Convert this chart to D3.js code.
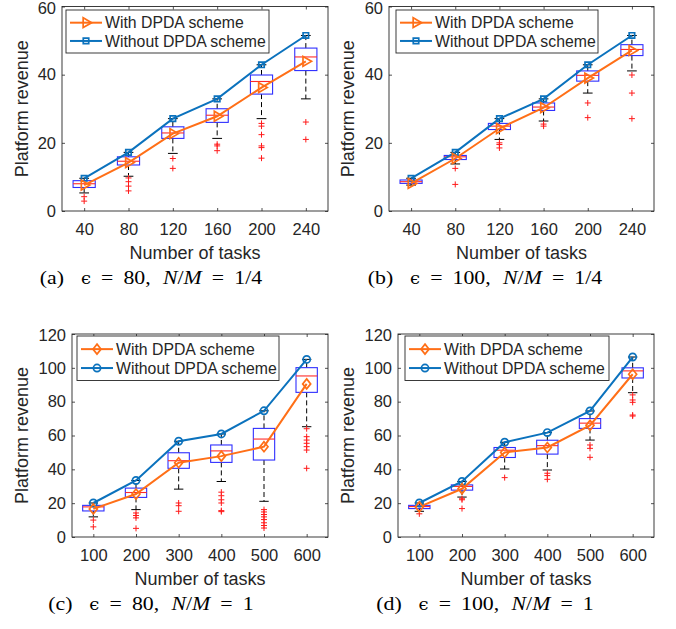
<!DOCTYPE html>
<html><head><meta charset="utf-8">
<script src="https://cdn.jsdelivr.net/npm/d3@7"></script>
<style>
body{margin:0;background:#fff;}
svg{display:block;}
text{font-family:"Liberation Sans",Arial,Helvetica,sans-serif;fill:#262626;}
.cap{font-family:"Liberation Serif","Times New Roman",serif;fill:#000;}
</style></head>
<body><svg id="chart" width="676" height="629"></svg>
<script>
// ---------------- data ----------------
const tasksAB = ["40","80","120","160","200","240"];
const tasksCD = ["100","200","300","400","500","600"];
const ticksAB = [0,20,40,60];
const ticksCD = [0,20,40,60,80,100,120];
const seriesNames = ["With DPDA scheme","Without DPDA scheme"];

// (a) eps=80, N/M=1/4
const withA    = [7.6,14.2,22.7,27.8,36.2,43.9];
const withoutA = [9.6,17.2,27.1,32.9,42.9,51.5];
const q1A  = [6.9,13.5,21.3,26.0,34.3,41.2];
const medA = [8.0,14.6,22.9,28.1,38.0,45.2];
const q3A  = [8.9,15.9,24.7,30.0,39.9,47.8];
const loA  = [5.3,10.2,16.9,21.3,27.1,32.9];
const hiA  = [9.6,17.2,27.1,32.9,42.9,51.5];
const outA = [[4.2,2.9],[9.7,8.6,7.3,5.9],[15.4,12.5],[19.6,19.1,17.7],[25.7,24.9,22.4,19.1,18.6,15.5],[26.1,21.0]];

// (b) eps=100, N/M=1/4
const withB    = [8.1,15.4,24.2,30.3,39.0,47.1];
const withoutB = [9.6,17.2,27.1,32.9,42.9,51.5];
const q1B  = [8.1,15.1,23.9,29.5,38.1,45.6];
const medB = [8.6,15.9,24.9,30.5,39.8,47.4];
const q3B  = [9.1,16.3,25.7,31.7,41.1,48.8];
const loB  = [7.6,13.8,21.0,26.4,34.6,41.1];
const hiB  = [9.6,17.2,27.1,32.9,42.9,51.5];
const outB = [[],[12.5,7.8],[20.0,19.5,18.5],[25.5,24.9],[31.7,27.4],[39.9,34.6,27.1]];

// (c) eps=80, N/M=1
const withC    = [16.6,25.4,43.9,47.8,53.4,90.5];
const withoutC = [20.1,33.4,56.6,60.9,74.6,105.0];
const q1C  = [15.4,23.4,40.6,44.1,45.5,85.5];
const medC = [17.8,26.3,45.1,50.9,57.9,95.2];
const q3C  = [18.7,28.9,49.8,54.4,64.2,100.1];
const loC  = [11.9,16.2,28.3,32.8,21.1,65.2];
const hiC  = [20.1,33.4,56.6,60.9,74.6,105.0];
const outC = [[10.0,6.0],[14.2,12.7,11.3,5.1],[20.1,18.5,15.2],[26.5,24.4,22.0,20.1,15.6,15.0],[16.2,14.8,13.3,11.9,10.3,8.4,6.8,5.3],[64.0,59.3,57.3,55.4,53.4,51.4,40.6]];

// (d) eps=100, N/M=1
const withD    = [17.8,28.5,50.0,52.9,66.0,96.2];
const withoutD = [20.1,32.8,56.0,61.7,74.5,106.4];
const q1D  = [16.8,27.7,47.0,49.0,64.2,94.0];
const medD = [18.0,29.9,51.3,54.0,67.3,98.2];
const q3D  = [18.7,30.8,52.9,57.2,70.0,100.0];
const loD  = [15.2,23.6,40.2,39.6,57.3,85.3];
const hiD  = [20.1,32.8,56.0,61.7,74.5,106.4];
const outD = [[13.7],[22.6,22.0,16.8],[35.1],[37.7,36.3,34.1],[54.4,52.4,47.1],[84.0,81.0,79.6,72.1,71.5]];

const captions = [
  ["(a)","80","1/4"],["(b)","100","1/4"],["(c)","80","1"],["(d)","100","1"]
];

// ---------------- layout ----------------
const ORANGE = "#ff6f17", BLUE = "#0b72bd";
const panels = [
  {cats:tasksAB, yMax:60, ticks:ticksAB, w:withA, wo:withoutA, q1:q1A, med:medA, q3:q3A, lo:loA, hi:hiA, out:outA,
   L:62, R:328, T:6.5, B:211, leg:[66,10,203,43], ylabX:22, capX:151, mW:"tri", mWo:"sq", cap:captions[0]},
  {cats:tasksAB, yMax:60, ticks:ticksAB, w:withB, wo:withoutB, q1:q1B, med:medB, q3:q3B, lo:loB, hi:hiB, out:outB,
   L:389, R:654, T:6.5, B:211, leg:[396,10,202,43], ylabX:348, capX:485, mW:"tri", mWo:"sq", cap:captions[1]},
  {cats:tasksCD, yMax:120, ticks:ticksCD, w:withC, wo:withoutC, q1:q1C, med:medC, q3:q3C, lo:loC, hi:hiC, out:outC,
   L:72, R:328, T:334, B:537, leg:[77,336,202,44.5], ylabX:22, capX:151, mW:"dia", mWo:"circ", cap:captions[2]},
  {cats:tasksCD, yMax:120, ticks:ticksCD, w:withD, wo:withoutD, q1:q1D, med:medD, q3:q3D, lo:loD, hi:hiD, out:outD,
   L:398, R:654, T:334, B:537, leg:[405,336,204,44.5], ylabX:348, capX:485, mW:"dia", mWo:"circ", cap:captions[3]}
];

const svg = d3.select("#chart");

function marker(g, type, x, y, color){
  let p;
  if(type==="tri"){
    p = g.append("path").attr("d", d3.symbol().type(d3.symbolTriangle).size(42)())
      .attr("transform",`translate(${x},${y}) rotate(90)`);
  } else if(type==="sq"){
    p = g.append("path").attr("d", d3.symbol().type(d3.symbolSquare).size(30)())
      .attr("transform",`translate(${x},${y})`);
  } else if(type==="circ"){
    p = g.append("circle").attr("cx",x).attr("cy",y).attr("r",3.6);
  } else {
    p = g.append("path").attr("d","M0,-5L4,0L0,5L-4,0Z").attr("transform",`translate(${x},${y})`);
  }
  p.attr("fill","none").attr("stroke",color).attr("stroke-width",1.7);
}

panels.forEach(P=>{
  const g = svg.append("g");
  const x = d3.scalePoint().domain(P.cats).range([P.L,P.R]).padding(0.5);
  const y = d3.scaleLinear().domain([0,P.yMax]).range([P.B,P.T]);
  const step = x.step();
  const bw = step*0.5, cw = step*0.22;

  // axes
  const fmt = d3.format("d");
  const ax = g.append("g").attr("transform",`translate(0,${P.B})`)
    .call(d3.axisBottom(x).tickSize(-3).tickSizeOuter(0).tickPadding(12));
  const axT = g.append("g").attr("transform",`translate(0,${P.T})`)
    .call(d3.axisTop(x).tickSize(-3).tickSizeOuter(0).tickFormat(""));
  const ay = g.append("g").attr("transform",`translate(${P.L},0)`)
    .call(d3.axisLeft(y).tickValues(P.ticks).tickFormat(fmt).tickSize(-3).tickSizeOuter(0).tickPadding(6));
  const ayR = g.append("g").attr("transform",`translate(${P.R},0)`)
    .call(d3.axisRight(y).tickValues(P.ticks).tickSize(-3).tickSizeOuter(0).tickFormat(""));
  [ax,axT,ay,ayR].forEach(a=>{
    a.selectAll(".domain").remove();
    a.selectAll("line").attr("stroke","#262626").attr("stroke-width",0.8);
    a.selectAll("text").attr("font-size","16.5px").attr("fill","#262626")
      .attr("font-family",'"Liberation Sans",Arial,sans-serif');
  });
  // keep the top y label fully inside the picture
  ay.selectAll(".tick").filter(d=>d===P.yMax).select("text").attr("y",1.5);
  g.append("rect").attr("x",P.L).attr("y",P.T).attr("width",P.R-P.L).attr("height",P.B-P.T)
    .attr("fill","none").attr("stroke","#262626").attr("stroke-width",0.9);

  // box plots
  P.cats.forEach((c,i)=>{
    const cx = x(c);
    g.append("line").attr("x1",cx).attr("x2",cx).attr("y1",y(P.q3[i])).attr("y2",y(P.hi[i]))
      .attr("stroke","#000").attr("stroke-width",1).attr("stroke-dasharray","5,3");
    g.append("line").attr("x1",cx).attr("x2",cx).attr("y1",y(P.q1[i])).attr("y2",y(P.lo[i]))
      .attr("stroke","#000").attr("stroke-width",1).attr("stroke-dasharray","5,3");
    [P.hi[i],P.lo[i]].forEach(v=>{
      g.append("line").attr("x1",cx-cw/2).attr("x2",cx+cw/2).attr("y1",y(v)).attr("y2",y(v))
        .attr("stroke","#000").attr("stroke-width",1);
    });
    g.append("rect").attr("x",cx-bw/2).attr("y",y(P.q3[i])).attr("width",bw)
      .attr("height",y(P.q1[i])-y(P.q3[i])).attr("fill","none").attr("stroke","#2f2fff").attr("stroke-width",1.1);
    g.append("line").attr("x1",cx-bw/2).attr("x2",cx+bw/2).attr("y1",y(P.med[i])).attr("y2",y(P.med[i]))
      .attr("stroke","#ff2a2a").attr("stroke-width",1.1);
    P.out[i].forEach(v=>{
      const yy = y(v);
      g.append("path").attr("d",`M${cx-3},${yy}H${cx+3}M${cx},${yy-3}V${yy+3}`)
        .attr("stroke","#ff1a1a").attr("stroke-width",1);
    });
  });

  // lines
  const line = d3.line().x((d,i)=>x(P.cats[i])).y(d=>y(d));
  g.append("path").datum(P.wo).attr("d",line).attr("fill","none").attr("stroke",BLUE).attr("stroke-width",2);
  g.append("path").datum(P.w).attr("d",line).attr("fill","none").attr("stroke",ORANGE).attr("stroke-width",2);
  P.wo.forEach((v,i)=>marker(g,P.mWo,x(P.cats[i]),y(v),BLUE));
  P.w.forEach((v,i)=>marker(g,P.mW,x(P.cats[i]),y(v),ORANGE));

  // legend
  const [lx,ly,lw,lh] = P.leg;
  g.append("rect").attr("x",lx).attr("y",ly).attr("width",lw).attr("height",lh)
    .attr("fill","#fff").attr("stroke","#262626").attr("stroke-width",0.9);
  const rows = [[seriesNames[0],ORANGE,P.mW],[seriesNames[1],BLUE,P.mWo]];
  rows.forEach((r,k)=>{
    const yy = ly + lh*(k===0?0.295:0.72);
    g.append("line").attr("x1",lx+4).attr("x2",lx+36).attr("y1",yy).attr("y2",yy)
      .attr("stroke",r[1]).attr("stroke-width",2);
    marker(g,r[2],lx+20,yy,r[1]);
    g.append("text").attr("x",lx+39).attr("y",yy).attr("dy","0.36em")
      .attr("font-size","15.8px").text(r[0]);
  });

  // axis titles
  g.append("text").attr("x",(P.L+P.R)/2).attr("y",P.B+48).attr("text-anchor","middle")
    .attr("font-size","18px").text("Number of tasks");
  g.append("text").attr("transform",`translate(${P.ylabX},${(P.T+P.B)/2}) rotate(-90)`)
    .attr("dy","0.36em").attr("text-anchor","middle").attr("font-size","18px").text("Platform revenue");

  // caption
  const c = P.cap;
  const cg = g.append("g").attr("transform",`translate(${P.capX},${P.B+73}) scale(1.12,1)`);
  const t = cg.append("text").attr("class","cap").attr("x",0).attr("y",0)
    .attr("text-anchor","middle").attr("font-size","19.5px");
  t.append("tspan").text(c[0]);
  t.append("tspan").attr("dx",15).attr("font-family",'"DejaVu Serif",serif').attr("font-size","16px").text("ϵ");
  t.append("tspan").attr("dx",9).text("=");
  t.append("tspan").attr("dx",9).text(c[1]+",");
  t.append("tspan").attr("dx",11).attr("font-style","italic").text("N");
  t.append("tspan").text("/");
  t.append("tspan").attr("font-style","italic").text("M");
  t.append("tspan").attr("dx",9).text("=");
  t.append("tspan").attr("dx",9).text(c[2]);
});
</script></body></html>
